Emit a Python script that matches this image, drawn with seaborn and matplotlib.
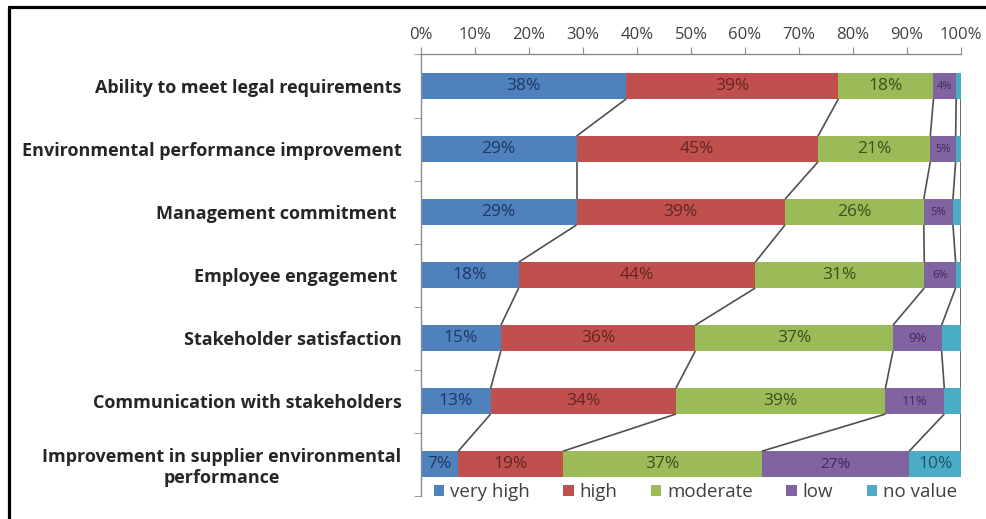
import seaborn as sns
import pandas as pd
import matplotlib.pyplot as plt
from matplotlib.patches import Patch
from matplotlib.lines import Line2D
from matplotlib.ticker import PercentFormatter

# -------------------------------------------------
# Data (percent of respondents)
# -------------------------------------------------
categories = [
    "Ability to meet legal requirements",
    "Environmental performance improvement",
    "Management commitment ",
    "Employee engagement ",
    "Stakeholder satisfaction",
    "Communication with stakeholders",
    "Improvement in supplier environmental\nperformance",
]
very_high = [38.0, 28.8, 28.8, 18.1, 14.8, 12.9, 6.9]
high = [39.3, 44.7, 38.6, 43.8, 36.0, 34.3, 19.4]
moderate = [17.6, 20.8, 25.7, 31.3, 36.6, 38.8, 36.8]
low = [4.2, 4.7, 5.4, 5.8, 9.0, 10.9, 27.3]
no_value = [0.9, 1.0, 1.5, 1.0, 3.6, 3.1, 9.6]

series_names = ["very high", "high", "moderate", "low", "no value"]
series_values = [very_high, high, moderate, low, no_value]
bar_colors = ["#4F81BD", "#C0504D", "#9BBB59", "#8064A2", "#4BACC6"]
text_colors = ["#1F3864", "#632523", "#3B4F1C", "#3F2A5A", "#1F5566"]

df = pd.DataFrame({name: vals for name, vals in zip(series_names, series_values)})
df["category"] = categories
cum = df[series_names].cumsum(axis=1)

# -------------------------------------------------
# Plot
# -------------------------------------------------
sns.set_style("white")
plt.rcParams["font.family"] = ["Open Sans", "DejaVu Sans"]

fig = plt.figure(figsize=(9.87, 5.19), dpi=100)
ax = fig.add_axes([0.4265, 0.045, 0.5472, 0.85])

bar_h = 0.41
# stacked bars: draw cumulative totals from the last series to the first
for name, color in reversed(list(zip(series_names, bar_colors))):
    sns.barplot(
        x=cum[name],
        y=df["category"],
        orient="h",
        color=color,
        width=bar_h,
        saturation=1,
        linewidth=0,
        ax=ax,
    )

# series lines between consecutive bars
for name in series_names:
    xs = cum[name].values
    for i in range(len(categories) - 1):
        ax.plot([xs[i], xs[i + 1]], [i + bar_h / 2, i + 1 - bar_h / 2],
                color="#505050", lw=1.2, zorder=3, solid_capstyle="butt")

# data labels
for k, name in enumerate(series_names):
    left = cum[name] - df[name]
    for i, v in enumerate(df[name]):
        if v < 4:
            continue
        if name == "low":
            fs = 8 if v < 7 else (9.5 if v < 15 else 11)
        else:
            fs = 12.5
        ax.text(left[i] + v / 2, i, f"{round(v)}%", ha="center", va="center",
                fontsize=fs, color=text_colors[k], zorder=4)

ax.set_xlim(0, 100)
ax.set_ylim(len(categories) - 0.5, -0.5)
ax.xaxis.set_major_formatter(PercentFormatter(decimals=0))
ax.set_xticks(range(0, 101, 10))
ax.xaxis.tick_top()
ax.tick_params(axis="x", direction="out", length=5, color="#8C8C8C",
               labelsize=12, labelcolor="#404040", pad=3)
ax.set_yticks(range(len(categories)))
ax.set_yticklabels(categories, fontweight="bold", fontsize=13,
                   color="#262626", multialignment="center")
ax.set_yticks([i - 0.5 for i in range(len(categories) + 1)], minor=True)
ax.tick_params(axis="y", which="major", length=0, pad=14)
ax.tick_params(axis="y", which="minor", direction="out", length=5,
               color="#8C8C8C", left=True)
ax.set_xlabel("")
ax.set_ylabel("")
for side in ["right", "bottom"]:
    ax.spines[side].set_visible(False)
for side in ["left", "top"]:
    ax.spines[side].set_color("#8C8C8C")
    ax.spines[side].set_linewidth(1)

handles = [Patch(facecolor=c, edgecolor="none", label=n)
           for n, c in zip(series_names, bar_colors)]
fig.legend(handles=handles, loc="center", bbox_to_anchor=(0.7045, 0.052),
           ncol=5, frameon=False, fontsize=13.5, handlelength=0.55,
           handleheight=0.55, handletextpad=0.3, columnspacing=1.8,
           labelcolor="#404040")

# black frame on the left and top of the picture
fig.add_artist(Line2D([0.0095, 1.0], [0.9865, 0.9865], color="black", lw=2.3,
                      transform=fig.transFigure))
fig.add_artist(Line2D([0.0095, 0.0095], [0.0, 0.9865], color="black", lw=2.3,
                      transform=fig.transFigure))

fig.savefig("out.png", dpi=100)
